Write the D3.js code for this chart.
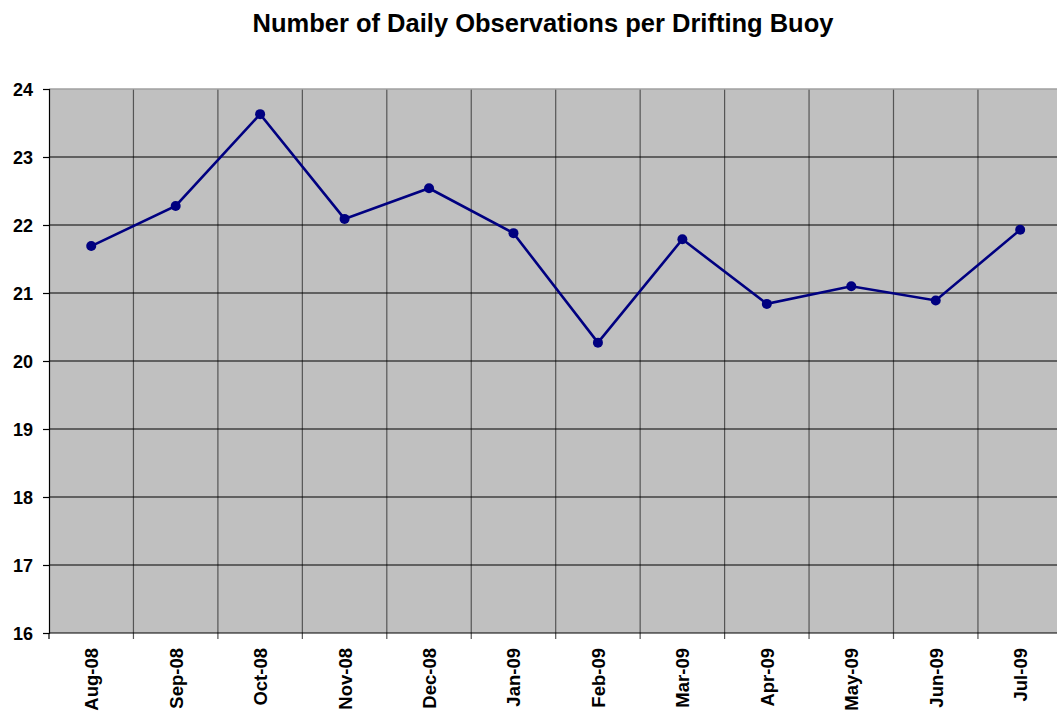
<!DOCTYPE html>
<html>
<head>
<meta charset="utf-8">
<script src="https://cdn.jsdelivr.net/npm/d3@7"></script>
<style>
  body { margin: 0; background: #fff; }
  svg { font-family: "Liberation Sans", Arial, sans-serif; }
</style>
</head>
<body>
<div id="chart"></div>
<script>
// chart data
let months = ["Aug-08", "Sep-08", "Oct-08", "Nov-08", "Dec-08", "Jan-09",
              "Feb-09", "Mar-09", "Apr-09", "May-09", "Jun-09", "Jul-09"];
let obs_per_buoy = [21.69, 22.28, 23.63, 22.09, 22.54, 21.88,
                    20.27, 21.79, 20.84, 21.10, 20.89, 21.93];
let y_ticks = [16, 17, 18, 19, 20, 21, 22, 23, 24];

let width_svg = 1057;
let height_svg = 720;

let margin = { top: 89, left: 49, bottom: 633 };
let band_w = 84.45;

let svg = d3.select("#chart")
            .append("svg")
            .attr("width", width_svg)
            .attr("height", height_svg);

// title
svg.append("text")
   .attr("x", 543)
   .attr("y", 32)
   .attr("text-anchor", "middle")
   .style("font-size", "25.5px")
   .style("font-weight", "bold")
   .text("Number of Daily Observations per Drifting Buoy");

let x = d3.scaleBand()
          .domain(months)
          .range([margin.left, margin.left + band_w * months.length]);

let y = d3.scaleLinear()
          .domain([16, 24])
          .range([margin.bottom, margin.top]);

// plot background
svg.append("rect")
   .attr("x", x.range()[0])
   .attr("y", y(24))
   .attr("width", x.range()[1] - x.range()[0])
   .attr("height", y(16) - y(24))
   .attr("fill", "#c0c0c0");

// vertical gridlines (category borders)
svg.selectAll(".vgrid")
   .data(months.slice(1))
   .enter()
   .append("line")
   .attr("x1", d => x(d)).attr("x2", d => x(d))
   .attr("y1", y(24)).attr("y2", y(16) + 6)
   .attr("stroke", "#555")
   .attr("stroke-width", 1.2);

// horizontal gridlines
svg.selectAll(".hgrid")
   .data(y_ticks.slice(1, -1))
   .enter()
   .append("line")
   .attr("x1", x.range()[0]).attr("x2", x.range()[1])
   .attr("y1", d => y(d)).attr("y2", d => y(d))
   .attr("stroke", "#000")
   .attr("stroke-width", 1.2);

// top border
svg.append("line")
   .attr("x1", x.range()[0]).attr("x2", x.range()[1])
   .attr("y1", y(24)).attr("y2", y(24))
   .attr("stroke", "#a0a0a0")
   .attr("stroke-width", 1.5);

// y axis
let y_axis = d3.axisLeft(y).tickValues(y_ticks).tickSize(6).tickPadding(10);
let yAxis = svg.append("g")
   .attr("transform", `translate(${margin.left},0)`)
   .call(y_axis);
yAxis.select(".domain").attr("stroke", "#000").attr("stroke-width", 1.2);
yAxis.selectAll(".tick line").attr("stroke", "#000").attr("stroke-width", 1.2);
yAxis.selectAll("text")
     .attr("fill", "#000")
     .attr("dy", "0.36em")
     .style("font-size", "18px")
     .style("font-weight", "bold")
     .style("font-family", "'Liberation Sans', Arial, sans-serif");

// x axis line
svg.append("line")
   .attr("x1", x.range()[0]).attr("x2", x.range()[1])
   .attr("y1", y(16)).attr("y2", y(16))
   .attr("stroke", "#000")
   .attr("stroke-width", 1.2);
svg.append("line")
   .attr("x1", x.range()[0]).attr("x2", x.range()[0])
   .attr("y1", y(16)).attr("y2", y(16) + 6)
   .attr("stroke", "#000")
   .attr("stroke-width", 1.2);

// x labels, rotated
svg.selectAll(".xlab")
   .data(months)
   .enter()
   .append("text")
   .attr("transform", d => `translate(${x(d) + x.bandwidth() / 2 + 7}, 648) rotate(-90)`)
   .attr("text-anchor", "end")
   .style("font-size", "18.5px")
   .style("font-weight", "bold")
   .text(d => d);

// line + markers
let line = d3.line()
             .x((d, i) => x(months[i]) + x.bandwidth() / 2)
             .y(d => y(d));

svg.append("path")
   .datum(obs_per_buoy)
   .attr("d", line)
   .attr("fill", "none")
   .attr("stroke", "#000080")
   .attr("stroke-width", 2.6);

svg.selectAll(".dot")
   .data(obs_per_buoy)
   .enter()
   .append("circle")
   .attr("cx", (d, i) => x(months[i]) + x.bandwidth() / 2)
   .attr("cy", d => y(d))
   .attr("r", 5)
   .attr("fill", "#000080");
</script>
</body>
</html>
